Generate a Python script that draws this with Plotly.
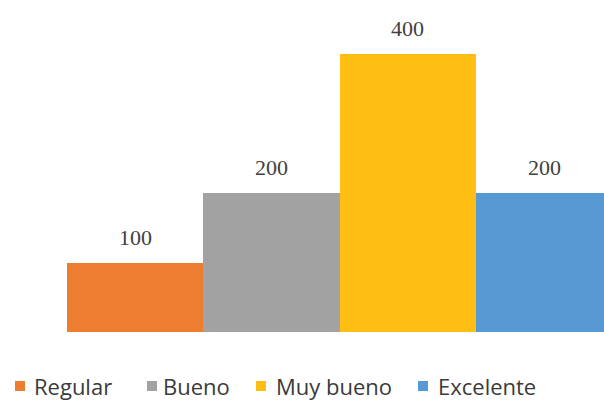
import plotly.graph_objects as go

categories = ["Regular", "Bueno", "Muy bueno", "Excelente"]
values = [100, 200, 400, 200]
colors = ["#ED7D31", "#A2A2A2", "#FFBE14", "#5799D3"]

W, H = 604, 402
ML, MB = 67, 70
PW, PH = W - ML, H - MB


def px_to_paper(px, py):
    return (px - ML) / PW, (PH - py) / PH


fig = go.Figure()
for i, (cat, val, col) in enumerate(zip(categories, values, colors)):
    fig.add_trace(go.Bar(
        x=[i], y=[val], name=cat, width=1.0,
        marker=dict(color=col, line=dict(width=0)),
        hoverinfo="skip", showlegend=False,
    ))
    fig.add_annotation(
        x=i, y=val, text=str(val), showarrow=False,
        yanchor="bottom", yshift=11,
        font=dict(family="Liberation Serif", size=22, color="#404040"),
    )

# legend row below the bars: swatch + label per category
swatch_x = [15, 147, 256, 418]
label_x = [32, 161, 274, 436]
legend_y = 386
for cat, col, sx, lx in zip(categories, colors, swatch_x, label_x):
    x0, y0 = px_to_paper(sx, legend_y - 5)
    x1, y1 = px_to_paper(sx + 10, legend_y + 5)
    fig.add_shape(type="rect", xref="paper", yref="paper",
                  x0=x0, x1=x1, y0=y1, y1=y0,
                  fillcolor=col, line=dict(width=0))
    tx, ty = px_to_paper(lx, legend_y)
    fig.add_annotation(xref="paper", yref="paper", x=tx, y=ty,
                       text=cat, showarrow=False,
                       xanchor="left", yanchor="middle",
                       font=dict(family="Open Sans", size=22, color="#3a3a3a"))

fig.update_layout(
    width=W, height=H,
    margin=dict(l=ML, r=0, t=0, b=MB),
    paper_bgcolor="white", plot_bgcolor="white",
    barmode="overlay",
    bargap=0,
    showlegend=False,
    xaxis=dict(range=[-0.5, 3.44], visible=False, fixedrange=True),
    yaxis=dict(range=[0, 478], visible=False, fixedrange=True),
)

fig.write_html("out.html")
